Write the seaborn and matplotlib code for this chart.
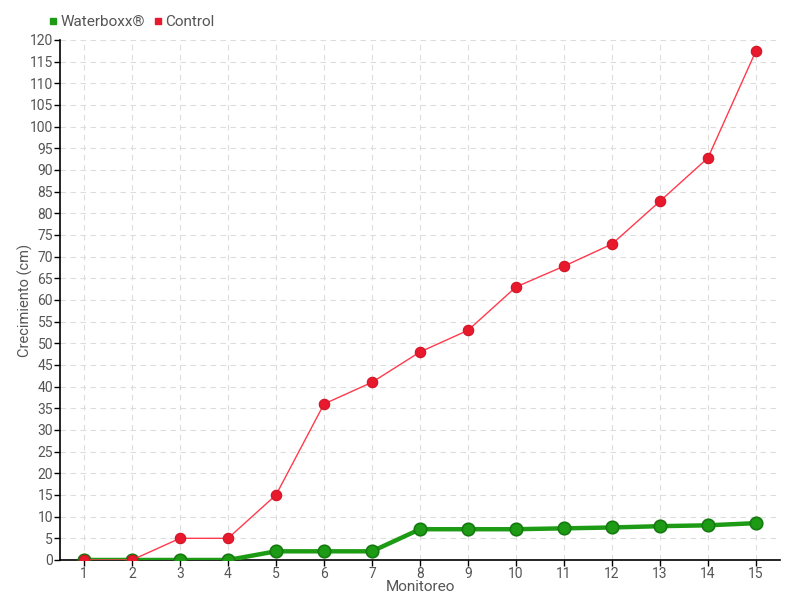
import numpy as np
import pandas as pd
import matplotlib.pyplot as plt
import seaborn as sns
from matplotlib.lines import Line2D

monitoreo = list(range(1, 16))
waterboxx = [0, 0, 0, 0, 2, 2, 2, 7.1, 7.1, 7.1, 7.3, 7.5, 7.8, 8.0, 8.5]
control = [0, 0, 5, 5, 15, 36, 41, 48, 53, 63, 67.8, 72.9, 82.8, 92.8, 117.5]
y_ticks = list(range(0, 121, 5))

sns.set_style("white")
plt.rcParams["font.family"] = ["Roboto", "DejaVu Sans"]

fig = plt.figure(figsize=(8, 6), dpi=100)
ax = fig.add_axes([0.075, 0.0667, 0.9, 0.8667])

df = pd.DataFrame({"Monitoreo": monitoreo, "Waterboxx": waterboxx, "Control": control})

# green series: lighter thin line under a thick one
sns.lineplot(data=df, x="Monitoreo", y="Waterboxx", ax=ax, color="#5cc24a", linewidth=1.5, zorder=3)
sns.lineplot(data=df, x="Monitoreo", y="Waterboxx", ax=ax, color="#1e9b14", linewidth=3.2,
             marker="o", markersize=9, markerfacecolor="#1e9b14", markeredgecolor="#157a10",
             markeredgewidth=1.2, zorder=4)
sns.lineplot(data=df, x="Monitoreo", y="Control", ax=ax, color="#ff3a4c", linewidth=1,
             marker="o", markersize=7.5, markerfacecolor="#e8192c", markeredgecolor="#d01426",
             markeredgewidth=0.8, zorder=5)

ax.set_xlim(0.5, 15.5)
ax.set_ylim(0, 120)
ax.set_xticks(monitoreo)
ax.set_yticks(y_ticks)
ax.grid(True, color="#dddddd", linestyle=(0, (5, 4)), linewidth=0.8)
ax.set_axisbelow(True)

for s in ["top", "right"]:
    ax.spines[s].set_visible(False)
for s in ["left", "bottom"]:
    ax.spines[s].set_color("black")
    ax.spines[s].set_linewidth(1.2)
ax.tick_params(axis="both", colors="black", labelcolor="#555555", labelsize=10,
               length=4, width=1, direction="out", bottom=True, left=True, pad=1)

ax.set_xlabel("Monitoreo", color="#555555", fontsize=11)
ax.set_ylabel("Crecimiento (cm)", color="#555555", fontsize=10.5)
ax.xaxis.set_label_coords(0.5, -0.038)
ax.yaxis.set_label_coords(-0.037, 0.5)

handles = [
    Line2D([], [], linestyle="none", marker="s", markersize=5, color="#1e9b14", label="Waterboxx®"),
    Line2D([], [], linestyle="none", marker="s", markersize=5, color="#e8192c", label="Control"),
]
fig.legend(handles=handles, loc="center left", bbox_to_anchor=(0.059, 0.963), ncol=2,
           frameon=False, fontsize=11, labelcolor="#555555", handletextpad=0.05,
           columnspacing=0.5, handlelength=0.8, borderaxespad=0, borderpad=0)

fig.savefig("out.png", dpi=100)
